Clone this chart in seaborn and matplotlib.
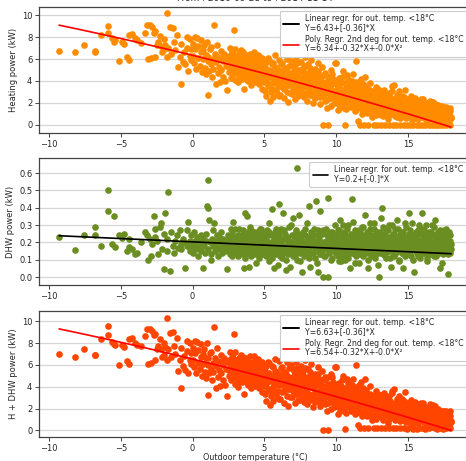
import numpy as np
import pandas as pd
import matplotlib
matplotlib.use("Agg")
import matplotlib.pyplot as plt
from matplotlib.lines import Line2D
import seaborn as sns

# Daily means: outdoor temperature (°C), space-heating power and DHW power (kW)
# grouped by temperature band.
temp_a = [-9.3, -8.2, -7.6, -6.8, -6.8, -6.4, -5.9, -5.9, -5.6, -5.5, -5.4, -5.1, -4.9, -4.8, -4.6, -4.4, -4.4, -4.2, -4.0]
heat_a = [6.75, 6.6, 7.25, 6.6, 6.7, 8.2, 9.05, 8.4, 7.9, 7.6, 7.7, 5.8, 7.6, 7.4, 6.2, 5.95, 8.2, 8.3, 7.9]
dhw_a = [0.23, 0.155, 0.245, 0.29, 0.24, 0.18, 0.50, 0.38, 0.19, 0.355, 0.175, 0.24, 0.225, 0.25, 0.15, 0.175, 0.22, 0.16, 0.13]

temp_b = [-3.9, -3.6, -3.3, -3.2, -3.1, -3.0, -2.9, -2.8, -2.7, -2.6,
          -2.6, -2.5, -2.4, -2.3, -2.2, -2.1, -2.0, -2.0, -1.9, -1.8,
          -1.8, -1.7, -1.6, -1.5, -1.4, -1.3, -1.2, -1.1, -1.0, -0.9,
          -0.8, -0.8, -0.7, -0.6, -0.5, -0.4, -0.4, -0.3, -0.2, -0.2,
          -0.1, -0.1]
heat_b = [7.7, 7.5, 8.4, 9.1, 6.0, 9.1, 6.1, 8.9, 8.4, 6.2,
          8.6, 7.3, 7.6, 8.1, 7.2, 6.6, 6.9, 7.8, 7.3, 10.2,
          6.2, 7.0, 8.9, 6.5, 8.8, 7.6, 6.8, 8.2, 5.3, 6.2,
          3.7, 7.4, 5.7, 6.6, 5.5, 7.0, 8.0, 4.9, 6.3, 7.8,
          6.9, 5.9]
dhw_b = [0.14, 0.20, 0.26, 0.24, 0.10, 0.22, 0.12, 0.19, 0.35, 0.28,
         0.23, 0.21, 0.13, 0.29, 0.31, 0.16, 0.045, 0.25, 0.37, 0.15,
         0.22, 0.49, 0.035, 0.26, 0.18, 0.14, 0.21, 0.24, 0.17, 0.27,
         0.19, 0.16, 0.22, 0.20, 0.05, 0.27, 0.18, 0.32, 0.15, 0.21,
         0.24, 0.17]

temp_c = [0.0, 0.0, 0.1, 0.15, 0.2, 0.25, 0.3, 0.35, 0.4, 0.5,
          0.55, 0.6, 0.65, 0.7, 0.75, 0.8, 0.85, 0.9, 0.95, 1.0,
          1.05, 1.1, 1.1, 1.15, 1.2, 1.25, 1.3, 1.35, 1.4, 1.45,
          1.5, 1.55, 1.6, 1.65, 1.7, 1.75, 1.8, 1.85, 1.9, 1.95,
          2.0, 2.05, 2.1, 2.15, 2.2, 2.25, 2.3, 2.4, 2.45, 2.5,
          2.55, 2.6, 2.65, 2.7, 2.75, 2.8, 2.85, 2.9, 2.95, 3.0,
          3.05, 3.1, 3.15, 3.2, 3.25, 3.3, 3.35, 3.4, 3.45, 3.5,
          3.55, 3.6, 3.65, 3.7, 3.75, 3.8, 3.85, 3.9, 3.95, 4.0,
          4.05, 4.1, 4.15, 4.2, 4.25, 4.3, 4.35, 4.4, 4.45, 4.5,
          4.55, 4.6, 4.65, 4.7, 4.75, 4.8, 4.85, 4.9, 4.95]
heat_c = [6.3, 7.4, 5.6, 8.0, 6.9, 5.1, 7.9, 6.1, 7.2, 5.4,
          6.6, 7.7, 4.8, 6.0, 6.8, 7.3, 5.2, 6.4, 4.6, 7.6,
          5.8, 2.7, 6.2, 4.9, 6.9, 5.5, 7.1, 4.4, 6.0, 5.1,
          9.15, 6.5, 3.7, 5.7, 7.3, 4.7, 6.2, 5.3, 3.9, 6.7,
          5.0, 6.1, 4.4, 5.8, 6.5, 4.0, 5.4, 3.15, 6.0, 4.8,
          6.3, 5.2, 4.3, 5.9, 6.6, 4.6, 5.5, 8.7, 4.1, 5.7,
          6.2, 4.9, 3.9, 5.3, 6.5, 4.5, 5.9, 6.8, 4.2, 5.1,
          6.0, 3.3, 5.6, 4.7, 6.4, 5.3, 4.0, 5.8, 4.5, 6.1,
          3.6, 5.0, 4.3, 5.6, 6.6, 4.8, 3.9, 5.2, 6.0, 4.4,
          5.5, 3.7, 6.3, 5.0, 4.6, 5.8, 3.3, 4.2, 5.4]
dhw_c = [0.19, 0.14, 0.26, 0.18, 0.21, 0.16, 0.23, 0.12, 0.17, 0.20,
         0.15, 0.24, 0.19, 0.05, 0.22, 0.18, 0.14, 0.21, 0.25, 0.41,
         0.16, 0.56, 0.40, 0.33, 0.20, 0.13, 0.10, 0.22, 0.18, 0.27,
         0.31, 0.15, 0.21, 0.19, 0.24, 0.16, 0.12, 0.23, 0.17, 0.20,
         0.26, 0.14, 0.19, 0.22, 0.18, 0.15, 0.21, 0.045, 0.24, 0.17,
         0.20, 0.13, 0.28, 0.19, 0.16, 0.32, 0.21, 0.14, 0.18, 0.23,
         0.15, 0.20, 0.12, 0.28, 0.17, 0.19, 0.22, 0.16, 0.24, 0.21,
         0.13, 0.05, 0.37, 0.18, 0.21, 0.35, 0.15, 0.06, 0.24, 0.19,
         0.27, 0.16, 0.22, 0.13, 0.20, 0.26, 0.18, 0.08, 0.21, 0.15,
         0.24, 0.19, 0.11, 0.22, 0.28, 0.16, 0.20, 0.13, 0.25]

temp_d = [5.02, 5.05, 5.11, 5.14, 5.2, 5.26, 5.29, 5.35, 5.41, 5.44,
          5.5, 5.56, 5.6, 5.64, 5.71, 5.75, 5.79, 5.86, 5.9, 5.95,
          6.01, 6.04, 6.1, 6.16, 6.2, 6.24, 6.3, 6.36, 6.4, 6.45,
          6.49, 6.55, 6.61, 6.65, 6.7, 6.74, 6.81, 6.85, 6.9, 6.96,
          7.0, 7.04, 7.1, 7.15, 7.21, 7.25, 7.3, 7.34, 7.4, 7.46,
          7.5, 7.55, 7.59, 7.65, 7.71, 7.75, 7.8, 7.84, 7.9, 7.96,
          8.0, 8.05, 8.1, 8.14, 8.2, 8.26, 8.3, 8.35, 8.39, 8.45,
          8.51, 8.55, 8.6, 8.64, 8.7, 8.75, 8.81, 8.85, 8.9, 8.94,
          9.0, 9.06, 9.1, 9.15, 9.2, 9.24, 9.3, 9.36, 9.4, 9.45,
          9.5, 9.55, 9.61, 9.65, 9.7, 9.74, 9.8, 9.86, 9.9, 9.95]
heat_d = [4.9, 3.1, 5.7, 2.6, 4.3, 6.1, 3.7, 5.0, 2.2, 4.6,
          5.5, 3.3, 2.5, 4.1, 6.4, 3.9, 5.2, 2.9, 4.7, 3.5,
          5.9, 4.0, 2.7, 4.9, 3.4, 5.6, 4.4, 2.4, 6.5, 3.8,
          5.1, 3.0, 4.5, 2.1, 5.4, 3.6, 4.2, 5.8, 2.8, 4.8,
          3.3, 5.3, 2.3, 4.0, 6.0, 3.7, 4.6, 2.6, 5.0, 3.2,
          4.3, 5.7, 2.9, 3.9, 5.2, 2.5, 4.7, 6.2, 3.4, 4.1,
          2.2, 5.5, 3.6, 4.4, 2.7, 5.9, 3.1, 4.8, 2.0, 3.8,
          5.1, 2.4, 4.2, 3.3, 5.6, 2.8, 4.5, 3.0, 1.9, 4.0,
          5.3, 2.6, 0.0, 3.5, 4.7, 2.2, 3.9, 1.5, 4.4, 0.0,
          2.9, 3.3, 5.0, 1.7, 3.7, 2.4, 4.2, 2.0, 3.1, 5.6]
dhw_d = [0.15, 0.22, 0.18, 0.12, 0.27, 0.20, 0.09, 0.31, 0.16, 0.24,
         0.39, 0.14, 0.21, 0.05, 0.17, 0.26, 0.13, 0.19, 0.23, 0.07,
         0.42, 0.15, 0.20, 0.28, 0.11, 0.18, 0.37, 0.14, 0.22, 0.25,
         0.04, 0.17, 0.21, 0.13, 0.29, 0.16, 0.06, 0.20, 0.24, 0.12,
         0.34, 0.18, 0.22, 0.15, 0.27, 0.10, 0.63, 0.19, 0.36, 0.14,
         0.23, 0.17, 0.03, 0.21, 0.26, 0.12, 0.18, 0.24, 0.15, 0.31,
         0.20, 0.13, 0.41, 0.17, 0.06, 0.22, 0.19, 0.25, 0.14, 0.28,
         0.11, 0.18, 0.44, 0.16, 0.21, 0.03, 0.24, 0.13, 0.38, 0.19,
         0.15, 0.27, 0.0, 0.12, 0.17, 0.20, 0.17, 0.24, 0.455, 0.0,
         0.14, 0.21, 0.16, 0.26, 0.11, 0.19, 0.23, 0.15, 0.30, 0.18]

temp_e = [10.0, 10.05, 10.1, 10.16, 10.2, 10.25, 10.3, 10.34, 10.4, 10.45,
          10.5, 10.56, 10.6, 10.65, 10.7, 10.74, 10.8, 10.85, 10.91, 10.95,
          11.0, 11.05, 11.1, 11.14, 11.2, 11.26, 11.3, 11.35, 11.4, 11.45,
          11.5, 11.55, 11.6, 11.65, 11.7, 11.76, 11.8, 11.85, 11.9, 11.95,
          12.0, 12.05, 12.1, 12.15, 12.2, 12.25, 12.3, 12.35, 12.4, 12.45,
          12.5, 12.55, 12.6, 12.65, 12.7, 12.75, 12.8, 12.85, 12.9, 12.95,
          13.0, 13.05, 13.1, 13.15, 13.2, 13.25, 13.3, 13.35, 13.4, 13.45,
          13.5, 13.55, 13.6, 13.65, 13.7, 13.75, 13.8, 13.85, 13.9, 13.95,
          14.0, 14.05, 14.1, 14.15, 14.2, 14.25, 14.3, 14.35, 14.4, 14.45,
          14.5, 14.55, 14.6, 14.65, 14.7, 14.75, 14.8, 14.85, 14.9, 14.95,
          15.0, 15.05, 15.1, 15.15, 15.2, 15.25, 15.3, 15.35, 15.4, 15.45,
          15.5, 15.55, 15.6, 15.65, 15.7, 15.75, 15.8, 15.85, 15.9, 15.95,
          16.0, 16.05, 16.1, 16.15, 16.2, 16.25, 16.3, 16.35, 16.4, 16.45,
          16.5, 16.55, 16.6, 16.65, 16.7, 16.75, 16.8, 16.85, 16.9, 16.95,
          17.0, 17.05, 17.1, 17.15, 17.2, 17.25, 17.3, 17.35, 17.4, 17.45,
          17.5, 17.55, 17.6, 17.65, 17.7, 17.75, 17.8, 17.85, 17.9, 17.95,
          18.0]
heat_e = [5.6, 2.4, 3.6, 1.3, 4.3, 2.9, 1.8, 3.9, 2.2, 4.9,
          3.1, 1.5, 0.0, 3.4, 2.6, 4.5, 1.9, 3.0, 4.0, 2.3,
          3.7, 1.6, 2.8, 4.6, 2.0, 3.3, 1.2, 3.9, 5.8, 2.5,
          0.3, 3.5, 1.8, 0.0, 2.9, 4.2, 1.4, 2.3, 3.7, 0.0,
          4.4, 1.9, 2.7, 1.1, 3.2, 0.0, 2.1, 3.8, 1.5, 2.6,
          0.7, 3.0, 0.0, 1.8, 2.4, 3.4, 1.2, 0.0, 2.8, 1.6,
          2.2, 3.1, 0.9, 0.0, 2.5, 1.4, 3.2, 1.9, 0.0, 2.7,
          1.1, 2.0, 0.5, 2.9, 0.0, 1.6, 2.3, 1.0, 3.5, 0.0,
          1.8, 3.6, 1.2, 2.4, 0.0, 0.7, 2.1, 1.5, 3.1, 0.0,
          1.9, 0.9, 2.6, 1.3, 0.0, 2.0, 3.2, 0.6, 1.7, 0.0,
          2.3, 1.0, 1.6, 0.0, 2.2, 0.4, 1.4, 0.0, 1.9, 0.8,
          2.4, 1.2, 0.0, 1.7, 0.5, 2.1, 0.0, 1.3, 0.9, 1.8,
          0.0, 2.3, 0.6, 1.5, 0.0, 1.1, 2.0, 0.3, 1.6, 0.0,
          0.8, 2.2, 1.2, 0.0, 1.7, 0.5, 1.0, 0.0, 1.9, 0.7,
          1.4, 0.0, 1.1, 0.4, 1.6, 0.0, 0.9, 1.3, 0.2, 0.0,
          1.5, 0.6, 1.0, 0.0, 1.3, 0.3, 0.8, 1.4, 0.0, 1.2,
          0.6]
dhw_e = [0.22, 0.14, 0.27, 0.18, 0.09, 0.21, 0.33, 0.16, 0.24, 0.12,
         0.19, 0.26, 0.10, 0.15, 0.22, 0.17, 0.30, 0.13, 0.20, 0.05,
         0.25, 0.18, 0.45, 0.14, 0.21, 0.16, 0.27, 0.12, 0.19, 0.23,
         0.20, 0.15, 0.08, 0.26, 0.18, 0.22, 0.13, 0.29, 0.17, 0.21,
         0.36, 0.14, 0.24, 0.19, 0.05, 0.25, 0.16, 0.28, 0.12, 0.20,
         0.23, 0.15, 0.18, 0.31, 0.11, 0.22, 0.17, 0.26, 0.14, 0.0,
         0.21, 0.19, 0.34, 0.20, 0.40, 0.13, 0.24, 0.16, 0.22, 0.11,
         0.27, 0.18, 0.15, 0.30, 0.19, 0.23, 0.06, 0.21, 0.16, 0.25,
         0.12, 0.20, 0.28, 0.15, 0.18, 0.33, 0.17, 0.22, 0.10, 0.24,
         0.19, 0.14, 0.26, 0.05, 0.21, 0.16, 0.31, 0.18, 0.23, 0.13,
         0.20, 0.37, 0.15, 0.27, 0.12, 0.19, 0.24, 0.17, 0.21, 0.03,
         0.18, 0.26, 0.14, 0.22, 0.16, 0.30, 0.19, 0.11, 0.25, 0.37,
         0.18, 0.22, 0.14, 0.27, 0.16, 0.20, 0.09, 0.23, 0.17, 0.26,
         0.13, 0.21, 0.19, 0.30, 0.15, 0.24, 0.12, 0.20, 0.33, 0.17,
         0.22, 0.14, 0.26, 0.18, 0.05, 0.21, 0.16, 0.24, 0.19, 0.13,
         0.27, 0.20, 0.15, 0.22, 0.18, 0.25, 0.02, 0.17, 0.21, 0.14,
         0.19]

temp_f = [2.52, 2.58, 2.63, 2.71, 2.77, 2.82, 2.88, 2.93, 3.02, 3.08,
          3.12, 3.18, 3.23, 3.28, 3.33, 3.42, 3.48, 3.53, 3.58, 3.62,
          3.68, 3.72, 3.78, 3.83, 3.88, 3.92, 3.98, 4.02, 4.08, 4.12,
          4.18, 4.22, 4.28, 4.32, 4.38, 4.42, 4.48, 4.52, 4.58, 4.62,
          4.68, 4.72, 4.78, 4.82, 4.88, 4.92, 4.98,
          5.03, 5.1, 5.17, 5.23, 5.3, 5.37, 5.43, 5.5, 5.57, 5.63,
          5.7, 5.77, 5.83, 5.9, 5.97, 6.03, 6.1, 6.17, 6.23, 6.3,
          6.37, 6.43, 6.5, 6.57, 6.63, 6.7, 6.77, 6.83, 6.9, 6.97,
          7.03, 7.1, 7.17, 7.23, 7.3, 7.37, 7.43, 7.5, 7.57, 7.63,
          7.7, 7.77, 7.83, 7.9, 7.97, 8.03, 8.1, 8.17, 8.23, 8.3,
          8.37, 8.43, 8.5, 8.57, 8.63, 8.7, 8.77, 8.83, 8.9, 8.97,
          9.03, 9.1, 9.17, 9.23, 9.3, 9.37, 9.43, 9.5, 9.57, 9.63,
          9.7, 9.77, 9.83, 9.9, 9.97]
heat_f = [6.1, 5.5, 7.0, 4.9, 5.8, 6.4, 5.2, 6.9, 4.7, 5.9,
          6.3, 5.0, 4.3, 5.6, 6.1, 4.9, 5.4, 6.6, 4.4, 5.7,
          6.2, 5.1, 4.1, 5.5, 6.0, 4.8, 5.3, 6.5, 4.6, 5.2,
          5.9, 4.2, 5.4, 6.2, 4.7, 5.7, 5.0, 6.4, 4.0, 5.3,
          5.9, 4.4, 5.1, 6.1, 4.6, 5.5, 3.9,
          5.3, 4.0, 4.8, 3.5, 5.9, 4.4, 3.0, 4.9, 5.6, 3.8,
          4.5, 5.3, 3.2, 4.1, 5.0, 2.6, 4.6, 5.5, 3.9, 4.8,
          3.3, 5.2, 4.3, 6.0, 3.6, 4.7, 2.9, 4.0, 5.5, 3.8,
          4.5, 5.1, 3.1, 4.2, 5.6, 3.5, 4.8, 2.7, 4.0, 4.9,
          3.4, 4.4, 5.4, 2.9, 3.9, 4.7, 3.2, 5.2, 3.7, 4.3,
          2.6, 4.6, 3.5, 4.0, 2.9, 4.9, 3.4, 3.9, 2.5, 4.4,
          3.2, 3.8, 2.8, 4.5, 3.0, 3.6, 2.3, 4.1, 3.4, 2.7,
          4.6, 3.1, 2.6, 3.8, 2.9]
dhw_f = [0.18, 0.22, 0.15, 0.25, 0.12, 0.20, 0.17, 0.28, 0.14, 0.21,
         0.19, 0.24, 0.16, 0.13, 0.22, 0.18, 0.27, 0.15, 0.20, 0.11,
         0.23, 0.17, 0.26, 0.14, 0.19, 0.21, 0.16, 0.29, 0.12, 0.18,
         0.24, 0.20, 0.15, 0.22, 0.17, 0.13, 0.26, 0.19, 0.21, 0.16,
         0.28, 0.14, 0.23, 0.18, 0.20, 0.25, 0.17,
         0.17, 0.23, 0.13, 0.20, 0.26, 0.15, 0.19, 0.11, 0.24, 0.18,
         0.21, 0.14, 0.28, 0.16, 0.20, 0.25, 0.12, 0.19, 0.22, 0.15,
         0.27, 0.18, 0.10, 0.23, 0.17, 0.21, 0.14, 0.30, 0.19, 0.16,
         0.24, 0.12, 0.20, 0.26, 0.15, 0.22, 0.18, 0.09, 0.25, 0.17,
         0.21, 0.13, 0.28, 0.19, 0.16, 0.23, 0.11, 0.20, 0.26, 0.14,
         0.18, 0.24, 0.15, 0.21, 0.08, 0.27, 0.17, 0.22, 0.13, 0.19,
         0.25, 0.16, 0.20, 0.12, 0.28, 0.18, 0.23, 0.15, 0.21, 0.10,
         0.26, 0.17, 0.19, 0.24, 0.14]

temp_g = [10.03, 10.08, 10.13, 10.18, 10.23, 10.28, 10.33, 10.38, 10.43, 10.48,
          10.53, 10.58, 10.63, 10.68, 10.73, 10.78, 10.83, 10.88, 10.93, 10.98,
          11.03, 11.08, 11.13, 11.18, 11.23, 11.28, 11.33, 11.38, 11.43, 11.48,
          11.53, 11.58, 11.63, 11.68, 11.73, 11.78, 11.83, 11.88, 11.93, 11.98,
          12.03, 12.08, 12.13, 12.18, 12.23, 12.28, 12.33, 12.38, 12.43, 12.48,
          12.53, 12.58, 12.63, 12.68, 12.73, 12.78, 12.83, 12.88, 12.93, 12.98,
          13.03, 13.08, 13.13, 13.18, 13.23, 13.28, 13.33, 13.38, 13.43, 13.48,
          13.53, 13.58, 13.63, 13.68, 13.73, 13.78, 13.83, 13.88, 13.93, 13.98,
          14.03, 14.08, 14.13, 14.18, 14.23, 14.28, 14.33, 14.38, 14.43, 14.48,
          14.53, 14.58, 14.63, 14.68, 14.73, 14.78, 14.83, 14.88, 14.93, 14.98,
          15.03, 15.08, 15.13, 15.18, 15.23, 15.28, 15.33, 15.38, 15.43, 15.48,
          15.53, 15.58, 15.63, 15.68, 15.73, 15.78, 15.83, 15.88, 15.93, 15.98,
          16.03, 16.08, 16.13, 16.18, 16.23, 16.28, 16.33, 16.38, 16.43, 16.48,
          16.53, 16.58, 16.63, 16.68, 16.73, 16.78, 16.83, 16.88, 16.93, 16.98,
          17.03, 17.08, 17.13, 17.18, 17.23, 17.28, 17.33, 17.38, 17.43, 17.48,
          17.53, 17.58, 17.63, 17.68, 17.73, 17.78, 17.83, 17.88, 17.93, 17.98]
heat_g = [3.3, 2.0, 4.1, 2.7, 3.5, 1.6, 3.0, 4.4, 2.4, 3.2,
          2.1, 3.8, 2.9, 1.4, 3.6, 2.5, 4.2, 1.9, 3.3, 2.7,
          3.1, 2.2, 4.0, 1.7, 2.9, 3.5, 2.4, 1.3, 3.2, 2.0,
          2.6, 3.9, 1.6, 2.8, 2.1, 3.4, 1.0, 2.5, 3.1, 1.8,
          2.3, 3.5, 1.4, 2.9, 1.9, 2.6, 3.2, 1.1, 2.2, 2.8,
          1.7, 3.0, 2.4, 1.3, 2.7, 0.9, 2.0, 3.3, 1.5, 2.5,
          1.9, 2.6, 1.2, 3.0, 2.1, 0.8, 2.4, 1.6, 2.9, 1.3,
          2.2, 1.5, 2.8, 0.9, 1.9, 2.5, 1.2, 3.1, 1.7, 2.0,
          1.4, 2.3, 0.8, 1.8, 2.7, 1.1, 2.0, 1.5, 0.6, 2.4,
          1.6, 2.1, 1.0, 1.8, 2.5, 0.7, 1.4, 2.2, 1.2, 1.7,
          1.3, 2.0, 0.8, 1.6, 2.6, 1.1, 1.8, 0.5, 1.5, 2.2,
          1.0, 1.7, 2.1, 0.6, 1.4, 1.9, 0.9, 1.5, 2.3, 1.2,
          1.8, 0.7, 1.3, 2.0, 1.0, 1.6, 0.4, 1.2, 1.9, 0.9,
          1.4, 0.6, 1.7, 1.1, 2.1, 0.8, 1.3, 0.5, 1.6, 1.0,
          1.2, 1.8, 0.7, 1.0, 1.5, 0.4, 1.2, 1.7, 0.8, 1.1,
          1.4, 0.5, 1.1, 1.6, 0.8, 1.2, 0.3, 1.0, 1.5, 0.7]
dhw_g = [0.16, 0.24, 0.12, 0.20, 0.27, 0.18, 0.09, 0.22, 0.15, 0.30,
         0.19, 0.13, 0.25, 0.21, 0.17, 0.28, 0.11, 0.23, 0.16, 0.20,
         0.24, 0.14, 0.19, 0.32, 0.17, 0.22, 0.08, 0.26, 0.15, 0.21,
         0.18, 0.27, 0.13, 0.20, 0.24, 0.16, 0.29, 0.12, 0.22, 0.19,
         0.15, 0.23, 0.18, 0.26, 0.10, 0.21, 0.17, 0.31, 0.14, 0.24,
         0.20, 0.16, 0.28, 0.13, 0.22, 0.19, 0.25, 0.07, 0.18, 0.23,
         0.17, 0.26, 0.14, 0.21, 0.29, 0.16, 0.20, 0.12, 0.24, 0.18,
         0.22, 0.15, 0.27, 0.19, 0.11, 0.23, 0.17, 0.30, 0.14, 0.20,
         0.25, 0.18, 0.13, 0.22, 0.16, 0.28, 0.19, 0.09, 0.24, 0.15,
         0.21, 0.14, 0.26, 0.18, 0.23, 0.12, 0.29, 0.17, 0.20, 0.15,
         0.19, 0.25, 0.13, 0.22, 0.16, 0.31, 0.18, 0.10, 0.24, 0.20,
         0.15, 0.23, 0.18, 0.27, 0.12, 0.21, 0.26, 0.16, 0.19, 0.28,
         0.22, 0.14, 0.25, 0.17, 0.30, 0.19, 0.11, 0.23, 0.16, 0.21,
         0.18, 0.26, 0.13, 0.24, 0.20, 0.15, 0.29, 0.17, 0.22, 0.12,
         0.25, 0.16, 0.21, 0.14, 0.27, 0.19, 0.23, 0.08, 0.18, 0.24,
         0.17, 0.22, 0.28, 0.15, 0.20, 0.13, 0.26, 0.19, 0.24, 0.16]

# Fitted regression coefficients (days with outdoor temperature < 18 °C)
heat_lin = (6.43, -0.36)
heat_poly = (6.34, -0.32, -0.0025)
dhw_lin = (0.203, -0.0038)
total_lin = (6.63, -0.36)
total_poly = (6.54, -0.32, -0.0024)

period_title = "From : 2010-09-28 to : 2014-11-14"

df = pd.DataFrame({
    "temp": np.concatenate([temp_a, temp_b, temp_c, temp_d, temp_e, temp_f, temp_g]),
    "heating": np.concatenate([heat_a, heat_b, heat_c, heat_d, heat_e, heat_f, heat_g]),
    "dhw": np.concatenate([dhw_a, dhw_b, dhw_c, dhw_d, dhw_e, dhw_f, dhw_g]),
})
df["total"] = df["heating"] + df["dhw"]

sns.set_theme(style="ticks")
plt.rcParams["font.family"] = ["DejaVu Sans"]
plt.rcParams["axes.edgecolor"] = "#444444"
plt.rcParams["axes.linewidth"] = 0.9

fig = plt.figure(figsize=(4.66, 4.61), dpi=100)
left, width = 0.0837, 0.927
ax_h = fig.add_axes([left, 0.7115, width, 0.2735])
ax_d = fig.add_axes([left, 0.3818, width, 0.2755])
ax_t = fig.add_axes([left, 0.0521, width, 0.2733])

x_fit = np.linspace(df["temp"].min(), df["temp"].max(), 60)


def lin_label(coefs):
    b0, b1 = coefs
    return ("Linear regr. for out. temp. <18°C\n"
            f"Y={round(b0, 2)}+{np.round(np.array([b1]), 2)}*X")


def poly_label(coefs):
    c0, c1, c2 = coefs
    return ("Poly. Regr. 2nd deg for out. temp. <18°C\n"
            f"Y={c0}+{c1}*X+{round(c2, 1)}*X²")


def style_axes(ax, ylabel, yticks, ylim, fmt):
    ax.set_xlim(-10.7, 19.39)
    ax.set_ylim(*ylim)
    ax.set_xticks([-10, -5, 0, 5, 10, 15])
    ax.set_yticks(yticks)
    ax.set_yticklabels([fmt.format(v) for v in yticks])
    ax.yaxis.grid(True, color="#d6d6d6", linewidth=0.9)
    ax.xaxis.grid(False)
    ax.set_axisbelow(True)
    ax.tick_params(labelsize=6, length=3, width=0.7, color="#444444", pad=1.8)
    ax.set_ylabel(ylabel, fontsize=6, labelpad=3)
    ax.set_xlabel("")


def add_legend(ax, handles):
    leg = ax.legend(handles=handles, loc="upper right", fontsize=5.6,
                    frameon=True, framealpha=1.0, edgecolor="#cccccc",
                    borderpad=0.45, labelspacing=0.4, handlelength=2.0,
                    borderaxespad=0.5)
    for txt in leg.get_texts():
        txt.set_linespacing(1.0)
    leg.get_frame().set_linewidth(0.8)


scatter_kw = dict(s=23, linewidth=0, alpha=1.0, legend=False)

# Heating power
sns.scatterplot(data=df, x="temp", y="heating", color="#ff8c00", ax=ax_h, **scatter_kw)
c0, c1, c2 = heat_poly
red_h, = ax_h.plot(x_fit, c0 + c1 * x_fit + c2 * x_fit ** 2, color="red", lw=1.2,
                   label=poly_label(heat_poly))
black_h = Line2D([], [], color="black", lw=1.4, label=lin_label(heat_lin))
style_axes(ax_h, "Heating power (kW)", [0, 2, 4, 6, 8, 10], (-0.77, 10.77), "{:.0f}")
add_legend(ax_h, [black_h, red_h])
ax_h.set_title(period_title, fontsize=6.5, pad=4.5)

# DHW power
sns.scatterplot(data=df, x="temp", y="dhw", color="#6b8e23", ax=ax_d, **scatter_kw)
b0, b1 = dhw_lin
black_d, = ax_d.plot(x_fit, b0 + b1 * x_fit, color="black", lw=1.2,
                     label=lin_label(dhw_lin))
style_axes(ax_d, "DHW power (kW)", [0.0, 0.1, 0.2, 0.3, 0.4, 0.5, 0.6],
           (-0.046, 0.687), "{:.1f}")
add_legend(ax_d, [black_d])

# Heating + DHW power
sns.scatterplot(data=df, x="temp", y="total", color="#ff4500", ax=ax_t, **scatter_kw)
c0, c1, c2 = total_poly
red_t, = ax_t.plot(x_fit, c0 + c1 * x_fit + c2 * x_fit ** 2, color="red", lw=1.2,
                   label=poly_label(total_poly))
black_t = Line2D([], [], color="black", lw=1.4, label=lin_label(total_lin))
style_axes(ax_t, "H + DHW power (kW)", [0, 2, 4, 6, 8, 10], (-0.6, 10.95), "{:.0f}")
add_legend(ax_t, [black_t, red_t])
ax_t.set_xlabel("Outdoor temperature (°C)", fontsize=5.8, labelpad=0.5)

fig.savefig("out.png", dpi=100)
